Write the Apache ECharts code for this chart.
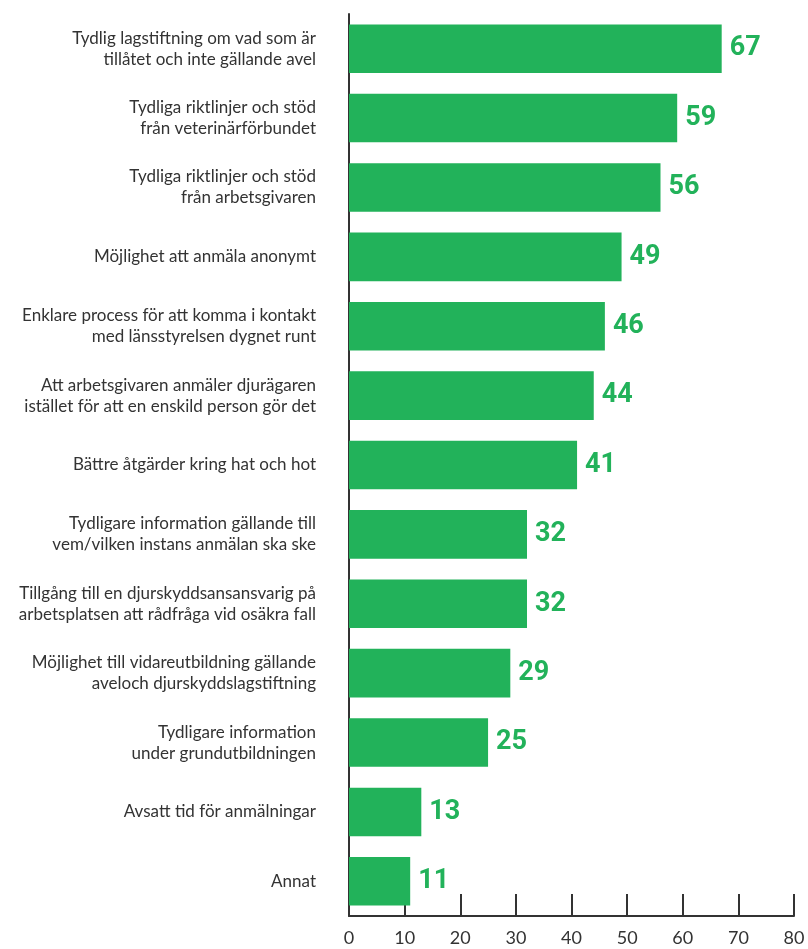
<!DOCTYPE html>
<html><head><meta charset="utf-8">
<script src="https://cdn.jsdelivr.net/npm/echarts@6/dist/echarts.min.js"></script>
<style>html,body{margin:0;padding:0;background:#fff}#c{width:808px;height:949px}</style>
</head><body><div id="c"></div>
<script>
const categories = [
  "Tydlig lagstiftning om vad som är\ntillåtet och inte gällande avel",
  "Tydliga riktlinjer och stöd\nfrån veterinärförbundet",
  "Tydliga riktlinjer och stöd\nfrån arbetsgivaren",
  "Möjlighet att anmäla anonymt",
  "Enklare process för att komma i kontakt\nmed länsstyrelsen dygnet runt",
  "Att arbetsgivaren anmäler djurägaren\nistället för att en enskild person gör det",
  "Bättre åtgärder kring hat och hot",
  "Tydligare information gällande till\nvem/vilken instans anmälan ska ske",
  "Tillgång till en djurskyddsansansvarig på\narbetsplatsen att rådfråga vid osäkra fall",
  "Möjlighet till vidareutbildning gällande\naveloch djurskyddslagstiftning",
  "Tydligare information\nunder grundutbildningen",
  "Avsatt tid för anmälningar",
  "Annat"
];
const values = [67, 59, 56, 49, 46, 44, 41, 32, 32, 29, 25, 13, 11];
const xTicks = [0, 10, 20, 30, 40, 50, 60, 70, 80];

const chart = echarts.init(document.getElementById('c'));
chart.setOption({
  animation: false,
  grid: {left: 349, right: 14, top: 14, bottom: 33, containLabel: false},
  xAxis: {
    type: 'value', min: xTicks[0], max: xTicks[xTicks.length-1], interval: 10,
    axisLine: {show: true, lineStyle: {color: '#333', width: 2}},
    axisTick: {show: true, inside: true, length: 22, lineStyle: {color: '#333', width: 2}},
    axisLabel: {color: '#333', fontSize: 18, fontFamily: 'Lato', margin: 13},
    splitLine: {show: false}
  },
  yAxis: {
    type: 'category', data: categories, inverse: true,
    axisLine: {show: true, lineStyle: {color: '#333', width: 2}},
    axisTick: {show: false},
    axisLabel: {color: '#333', fontSize: 17, fontFamily: 'Lato', lineHeight: 21, margin: 33, align: 'right'}
  },
  series: [{
    type: 'bar', data: values, barWidth: '70%',
    itemStyle: {color: '#22b25a'},
    label: {show: true, position: 'right', distance: 8, color: '#22b25a', fontSize: 27, fontWeight: 'bold', fontFamily: 'Roboto, sans-serif'}
  }]
});
</script></body></html>
